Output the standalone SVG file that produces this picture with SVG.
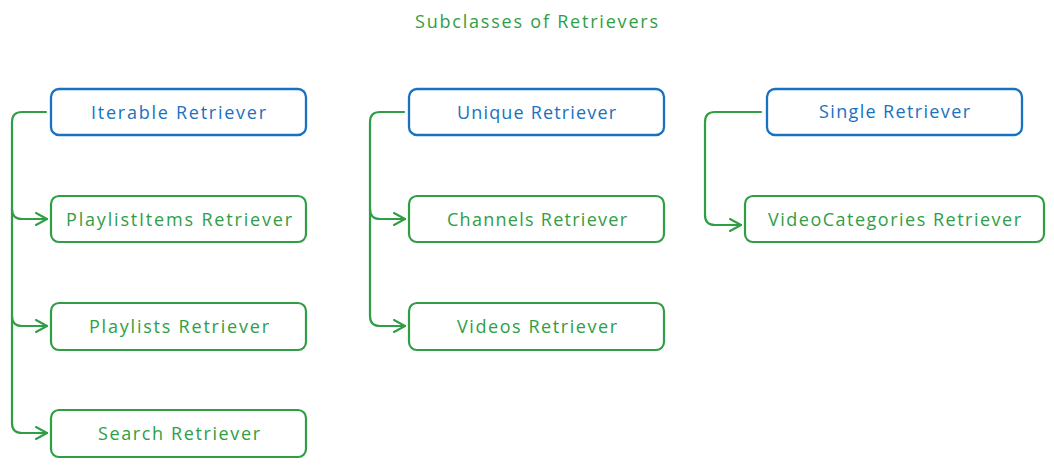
<svg xmlns="http://www.w3.org/2000/svg" width="1054" height="467" viewBox="0 0 1054 467">
<defs>
<marker id="ah" markerWidth="14" markerHeight="14" refX="12" refY="7" orient="auto" markerUnits="userSpaceOnUse">
<path d="M1,1 L12,7 L1,13" fill="none" stroke="#2f9e44" stroke-width="2" stroke-linecap="round" stroke-linejoin="round"/>
</marker>
<style>
.bb{fill:#fff;stroke:#1971c2;stroke-width:2.3}
.gb{fill:#fff;stroke:#2f9e44;stroke-width:2.2}
.bt{fill:#1971c2;font-family:"Open Sans","Liberation Sans",sans-serif;font-size:18px;text-anchor:middle;dominant-baseline:central}
.gt{fill:#2f9e44;font-family:"Open Sans","Liberation Sans",sans-serif;font-size:18px;text-anchor:middle;dominant-baseline:central}
.c{fill:none;stroke:#2f9e44;stroke-width:2.2;stroke-linecap:round;stroke-linejoin:round}
</style>
</defs>
<rect width="1054" height="467" fill="#fff"/>
<text id="title" class="gt" x="536.5" y="21" textLength="243" lengthAdjust="spacing">Subclasses of Retrievers</text>
<g id="connectors">
<path class="c" d="M46,112 L22,112 Q12,112 12,122 L12,209 Q12,219 22,219 L47,219" marker-end="url(#ah)"/>
<path class="c" d="M12,209 L12,316 Q12,326 22,326 L47,326" marker-end="url(#ah)"/>
<path class="c" d="M12,316 L12,423 Q12,433 22,433 L47,433" marker-end="url(#ah)"/>
<path class="c" d="M404,112 L380,112 Q370,112 370,122 L370,209 Q370,219 380,219 L405,219" marker-end="url(#ah)"/>
<path class="c" d="M370,209 L370,316 Q370,326 380,326 L405,326" marker-end="url(#ah)"/>
<path class="c" d="M761,112 L715,112 Q705,112 705,122 L705,215 Q705,225 715,225 L741,225" marker-end="url(#ah)"/>
</g>
<g id="iterable"><rect class="bb" x="51" y="89" width="255" height="46" rx="8"/><text class="bt" x="178.5" y="112" textLength="175" lengthAdjust="spacing">Iterable Retriever</text></g>
<g id="playlistitems"><rect class="gb" x="51" y="196" width="255" height="46" rx="8"/><text class="gt" x="179" y="219" textLength="226" lengthAdjust="spacing">PlaylistItems Retriever</text></g>
<g id="playlists"><rect class="gb" x="51" y="303" width="255" height="47" rx="8"/><text class="gt" x="179" y="326" textLength="180" lengthAdjust="spacing">Playlists Retriever</text></g>
<g id="search"><rect class="gb" x="51" y="410" width="255" height="47" rx="8"/><text class="gt" x="179" y="433" textLength="162" lengthAdjust="spacing">Search Retriever</text></g>
<g id="unique"><rect class="bb" x="409" y="89" width="255" height="46" rx="8"/><text class="bt" x="536.5" y="112" textLength="159" lengthAdjust="spacing">Unique Retriever</text></g>
<g id="channels"><rect class="gb" x="409" y="196" width="255" height="46" rx="8"/><text class="gt" x="537" y="219" textLength="180" lengthAdjust="spacing">Channels Retriever</text></g>
<g id="videos"><rect class="gb" x="409" y="303" width="255" height="47" rx="8"/><text class="gt" x="537" y="326" textLength="160" lengthAdjust="spacing">Videos Retriever</text></g>
<g id="single"><rect class="bb" x="767" y="89" width="255" height="46" rx="8"/><text class="bt" x="894.5" y="111" textLength="151" lengthAdjust="spacing">Single Retriever</text></g>
<g id="videocategories"><rect class="gb" x="745" y="196" width="299" height="46" rx="8"/><text class="gt" x="894.5" y="219" textLength="253" lengthAdjust="spacing">VideoCategories Retriever</text></g>
</svg>
